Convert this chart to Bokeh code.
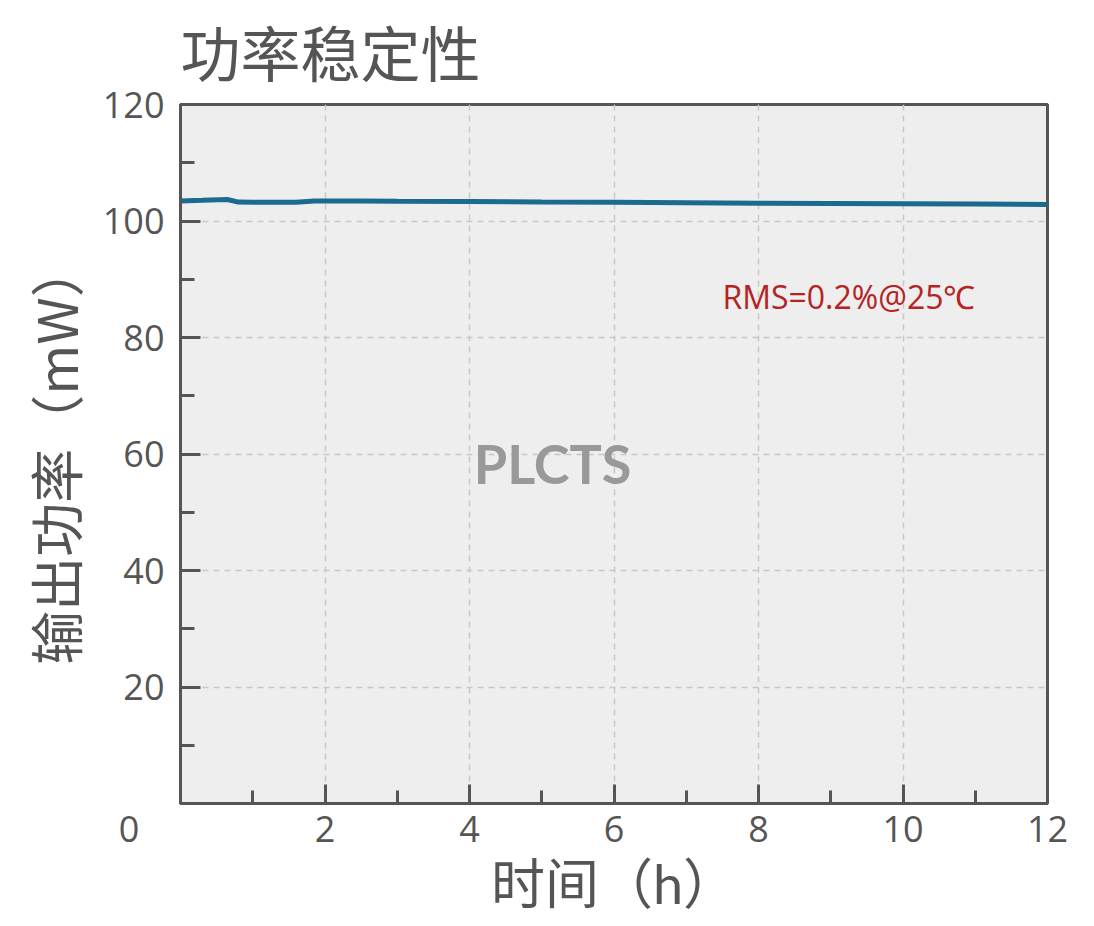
from bokeh.plotting import figure
from bokeh.models import FixedTicker, Label, Range1d
from bokeh.embed import file_html
from bokeh.resources import INLINE

# Data
hours = [0, 0.3, 0.65, 0.8, 1.0, 1.6, 1.85, 2.5, 3, 4, 5, 6, 7, 8, 9, 10, 11, 12]
power_mw = [103.45, 103.55, 103.7, 103.25, 103.2, 103.2, 103.45, 103.45, 103.4,
            103.35, 103.25, 103.2, 103.15, 103.05, 103.0, 102.95, 102.9, 102.85]
x_ticks = [0, 2, 4, 6, 8, 10, 12]
x_minor = [1, 3, 5, 7, 9, 11]
y_ticks = [20, 40, 60, 80, 100, 120]
y_minor = [10, 30, 50, 70, 90, 110]
title_text = "功率稳定性"
x_label = "时间（h）"
y_label = "输出功率（mW）"
note_text = "RMS=0.2%@25℃"
mark_text = "PLCTS"

CJK = "Noto Sans CJK SC"
CJK_TIGHT = "Lato, Noto Sans CJK SC"
NUM = "Open Sans"
GRAY = "#555555"

p = figure(width=1086, height=918, output_backend="svg", toolbar_location=None,
           x_range=Range1d(0, 12), y_range=Range1d(0, 120),
           min_border_left=180, min_border_right=39, min_border_top=104,
           min_border_bottom=115)

p.title.text = title_text
p.title.text_font = CJK_TIGHT
p.title.text_font_size = "60px"
p.title.text_font_style = "normal"
p.title.text_color = GRAY
p.title.offset = 0
p.title.standoff = 30

p.background_fill_color = "#eeeeee"
p.border_fill_color = "white"
p.outline_line_color = GRAY
p.outline_line_width = 3

p.line(hours, power_mw, line_color="#1b6a90", line_width=5)

for ax, ticks, minor in ((p.xaxis[0], x_ticks, x_minor), (p.yaxis[0], y_ticks, y_minor)):
    ax.ticker = FixedTicker(ticks=ticks, minor_ticks=minor)
    ax.axis_line_color = GRAY
    ax.axis_line_width = 3
    ax.major_tick_line_color = GRAY
    ax.major_tick_line_width = 3
    ax.minor_tick_line_color = GRAY
    ax.minor_tick_line_width = 3
    ax.major_tick_out = 0
    ax.minor_tick_out = 0
    ax.major_label_text_font = NUM
    ax.major_label_text_font_size = "36px"
    ax.major_label_text_color = GRAY
    ax.axis_label_text_font_style = "normal"
    ax.axis_label_text_color = GRAY
    ax.axis_label_text_font_size = "54px"

p.xaxis[0].axis_label_text_font = CJK_TIGHT
p.yaxis[0].axis_label_text_font = CJK

# the origin label "0" sits left of the corner, as in the reference
p.xaxis[0].major_label_overrides = {0: "0" + "\u00a0" * 11}
p.xaxis[0].major_tick_in = 19
p.xaxis[0].minor_tick_in = 13
p.yaxis[0].major_tick_in = 20
p.yaxis[0].minor_tick_in = 14
p.xaxis[0].major_label_standoff = 0
p.yaxis[0].major_label_standoff = 16
p.xaxis[0].axis_label = x_label
p.yaxis[0].axis_label = y_label
p.xaxis[0].axis_label_standoff = -5
p.yaxis[0].axis_label_standoff = 6

p.xgrid[0].ticker = FixedTicker(ticks=[2, 4, 6, 8, 10])
p.ygrid[0].ticker = FixedTicker(ticks=[20, 40, 60, 80, 100])
for g in (p.xgrid[0], p.ygrid[0]):
    g.grid_line_color = "#c8c8c8"
    g.grid_line_width = 1.5
    g.grid_line_dash = "6 5"

p.add_layout(Label(x=7.5, y=87.0, text=note_text, text_font=NUM, text_font_size="32px",
                   text_color="#b52323", text_align="left", text_baseline="middle"))
p.add_layout(Label(x=5.15, y=58.4, text=mark_text, text_font="Lato", text_font_size="54px",
                   text_font_style="bold", text_color="#999999", text_align="center",
                   text_baseline="middle"))

open("out.html", "w").write(file_html(p, INLINE))
